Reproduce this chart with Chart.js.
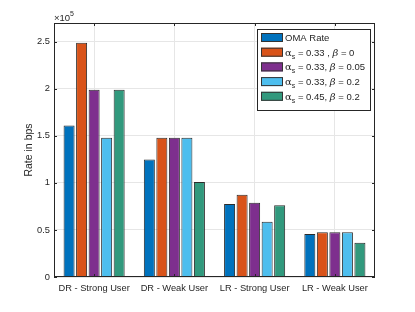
<!DOCTYPE html>
<html>
<head>
<meta charset="utf-8">
<script src="https://cdn.jsdelivr.net/npm/chart.js@4.4.1/dist/chart.umd.min.js"></script>
<style>
  html, body { margin: 0; padding: 0; background: #fff; }
  #wrap { width: 415px; height: 312px; position: relative; }
</style>
</head>
<body>
<div id="wrap"><canvas id="myChart" width="415" height="312"></canvas></div>
<script>
const categories = ["DR - Strong User", "DR - Weak User", "LR - Strong User", "LR - Weak User"];
const yTicks = [0, 50000, 100000, 150000, 200000, 250000];

// rates in bps
const omaRate = [161000, 125000, 77500, 45700];
const a033b0 = [249000, 148000, 87500, 47500];
const a033b005 = [199000, 148000, 79000, 47500];
const a033b02 = [148000, 148000, 58800, 47500];
const a045b02 = [199000, 101000, 76200, 36500];

const seriesColors = ["#0072BD", "#D95319", "#7E2F8E", "#4DBEEE", "#31997D"];
const FONT = "'Liberation Sans', Arial, Helvetica, sans-serif";

// legend entries: [text, style] pieces, style: n = normal, g = greek, s = subscript, i = italic
const legendItems = [
  [["OMA Rate", "n"]],
  [["\u03B1", "g"], ["s", "s"], [" = 0.33 , ", "n"], ["\u03B2", "i"], [" = 0", "n"]],
  [["\u03B1", "g"], ["s", "s"], [" = 0.33, ", "n"], ["\u03B2", "i"], [" = 0.05", "n"]],
  [["\u03B1", "g"], ["s", "s"], [" = 0.33, ", "n"], ["\u03B2", "i"], [" = 0.2", "n"]],
  [["\u03B1", "g"], ["s", "s"], [" = 0.45, ", "n"], ["\u03B2", "i"], [" = 0.2", "n"]],
];

const decorations = {
  id: "decorations",
  afterDraw(chart) {
    const c = chart.ctx;
    const a = chart.chartArea;
    c.save();
    // axes box
    c.strokeStyle = "#262626";
    c.lineWidth = 1;
    c.strokeRect(a.left + 0.5, a.top + 0.5, a.right - a.left - 1, a.bottom - a.top - 1);
    // inward tick marks
    const y = chart.scales.y, x = chart.scales.x;
    c.beginPath();
    yTicks.forEach(function (t) {
      const py = Math.round(y.getPixelForValue(t)) + 0.5;
      c.moveTo(a.left, py); c.lineTo(a.left + 3, py);
      c.moveTo(a.right, py); c.lineTo(a.right - 3, py);
    });
    categories.forEach(function (cat, i) {
      const px = Math.round(x.getPixelForValue(i)) + 0.5;
      c.moveTo(px, a.bottom); c.lineTo(px, a.bottom - 3);
      c.moveTo(px, a.top); c.lineTo(px, a.top + 3);
    });
    c.stroke();

    // exponent label
    c.fillStyle = "#262626";
    c.textBaseline = "alphabetic";
    c.textAlign = "left";
    c.font = "9.5px " + FONT;
    c.fillText("\u00D710", a.left, a.top - 2);
    const w = c.measureText("\u00D710").width;
    c.font = "7px " + FONT;
    c.fillText("5", a.left + w, a.top - 7);

    // y title
    c.save();
    c.translate(32, (a.top + a.bottom) / 2);
    c.rotate(-Math.PI / 2);
    c.textAlign = "center";
    c.font = "10.5px " + FONT;
    c.fillText("Rate in bps", 0, 0);
    c.restore();

    // legend
    const lx = 257, ly = 29, lw = 113, lh = 81;
    c.fillStyle = "#fff";
    c.fillRect(lx, ly, lw, lh);
    c.strokeStyle = "#262626";
    c.strokeRect(lx + 0.5, ly + 0.5, lw, lh);
    legendItems.forEach(function (parts, i) {
      const cy = ly + 8 + i * 14.7;
      c.fillStyle = seriesColors[i];
      c.fillRect(261, cy - 4, 22, 9);
      c.strokeStyle = "#333";
      c.strokeRect(261.5, cy - 3.5, 21, 8);
      let tx = 285;
      c.fillStyle = "#262626";
      parts.forEach(function (p) {
        let dy = 4;
        if (p[1] === "s") { c.font = "7px " + FONT; dy = 7; }
        else if (p[1] === "i") c.font = "italic 10px 'DejaVu Serif', serif";
        else if (p[1] === "g") c.font = "10px 'DejaVu Serif', serif";
        else c.font = "9.5px " + FONT;
        c.fillText(p[0], tx, cy + dy);
        tx += c.measureText(p[0]).width;
      });
    });
    c.restore();
  },
};

const ctx = document.getElementById("myChart").getContext("2d");
const seriesData = [omaRate, a033b0, a033b005, a033b02, a045b02];

new Chart(ctx, {
  type: "bar",
  data: {
    labels: categories,
    datasets: seriesData.map(function (d, i) {
      return {
        label: "s" + i,
        data: d,
        backgroundColor: seriesColors[i],
        borderColor: "#2b2b2b",
        borderWidth: 1,
        categoryPercentage: 0.78,
        barPercentage: 0.88,
      };
    }),
  },
  options: {
    responsive: false,
    animation: false,
    layout: { padding: { left: 0, right: 40, top: 23, bottom: 0 } },
    scales: {
      x: {
        grid: { color: "#e6e6e6", offset: false, drawTicks: false },
        border: { display: false },
        ticks: { color: "#262626", font: { size: 9.3, family: FONT }, padding: 6, maxRotation: 0 },
        afterFit: function (s) { s.height = 35; },
      },
      y: {
        min: 0,
        max: 270000,
        afterBuildTicks: function (s) { s.ticks = yTicks.map(function (v) { return { value: v }; }); },
        grid: { color: "#e6e6e6", drawTicks: false },
        border: { display: false },
        ticks: {
          color: "#262626",
          font: { size: 9.3, family: FONT },
          padding: 4,
          callback: function (v) { return String(v / 100000); },
        },
        afterFit: function (s) { s.width = 54; },
      },
    },
    plugins: { legend: { display: false }, tooltip: { enabled: false } },
  },
  plugins: [decorations],
});
</script>
</body>
</html>
